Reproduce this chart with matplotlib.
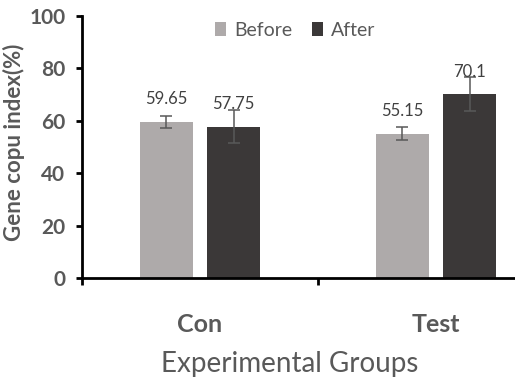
import numpy as np
import matplotlib
matplotlib.use("Agg")
import matplotlib.pyplot as plt

groups = ["Con", "Test"]
before = [59.65, 55.15]
after = [57.75, 70.1]
before_err = [2.3, 2.3]
after_err = [6.2, 6.5]

c_before = "#AEAAAA"
c_after = "#3B3838"
txt = "#595959"

plt.rcParams["font.family"] = ["Lato", "DejaVu Sans"]

fig = plt.figure(figsize=(5.15, 3.85), dpi=100)
# axes runs past the right edge of the figure on purpose
ax = fig.add_axes([82 / 515, 107 / 385, 472 / 515, 262 / 385])

x = np.arange(len(groups))
w = 0.225
off = 0.142
b1 = ax.bar(x - off, before, w, color=c_before, label="Before")
b2 = ax.bar(x + off, after, w, color=c_after, label="After")
ekw = dict(fmt="none", ecolor=txt, elinewidth=1.1, capsize=4, capthick=1.1)
ax.errorbar(x - off, before, yerr=before_err, **ekw)
ax.errorbar(x + off, after, yerr=after_err, **ekw)

for bars, vals in ((b1, before), (b2, after)):
    for r, v in zip(bars, vals):
        ax.annotate(f"{v:g}", (r.get_x() + r.get_width() / 2, v),
                    xytext=(0, 16), textcoords="offset points",
                    ha="center", va="center", fontsize=12, color="#404040")

ax.set_xlim(-0.5, 1.5)
ax.set_ylim(0, 100)
ax.set_yticks(range(0, 101, 20))
ax.set_xticks([-0.5, 0.5, 1.5])
ax.set_xticklabels([])
ax.set_xticks(x, minor=True)
ax.set_xticklabels(groups, minor=True, fontsize=18, color=txt,
                   fontweight="bold")
ax.tick_params(axis="x", which="major", direction="out", length=5, width=2)
ax.tick_params(axis="x", which="minor", length=0, pad=25)
ax.tick_params(axis="y", direction="out", length=4, width=2, pad=8,
               labelsize=15, labelcolor=txt)
for t in ax.get_yticklabels():
    t.set_fontweight("bold")

for s in ("top", "right"):
    ax.spines[s].set_visible(False)
for s in ("left", "bottom"):
    ax.spines[s].set_linewidth(2)

ax.set_ylabel("Gene copu index(%)", fontsize=16, fontweight="bold", color=txt)
ax.yaxis.set_label_coords(-0.12, 0.519)
ax.set_xlabel("Experimental Groups", fontsize=20, color=txt)
ax.xaxis.label.set_va("center")
ax.xaxis.set_label_coords(0.44, -0.33)

leg = ax.legend(loc="center", bbox_to_anchor=(295 / 515, 355 / 385),
                bbox_transform=fig.transFigure, ncol=2, frameon=False,
                fontsize=14, handlelength=0.6, handleheight=0.7,
                handletextpad=0.4, columnspacing=1.0)
for t in leg.get_texts():
    t.set_color(txt)

fig.savefig("out.png", dpi=100)
